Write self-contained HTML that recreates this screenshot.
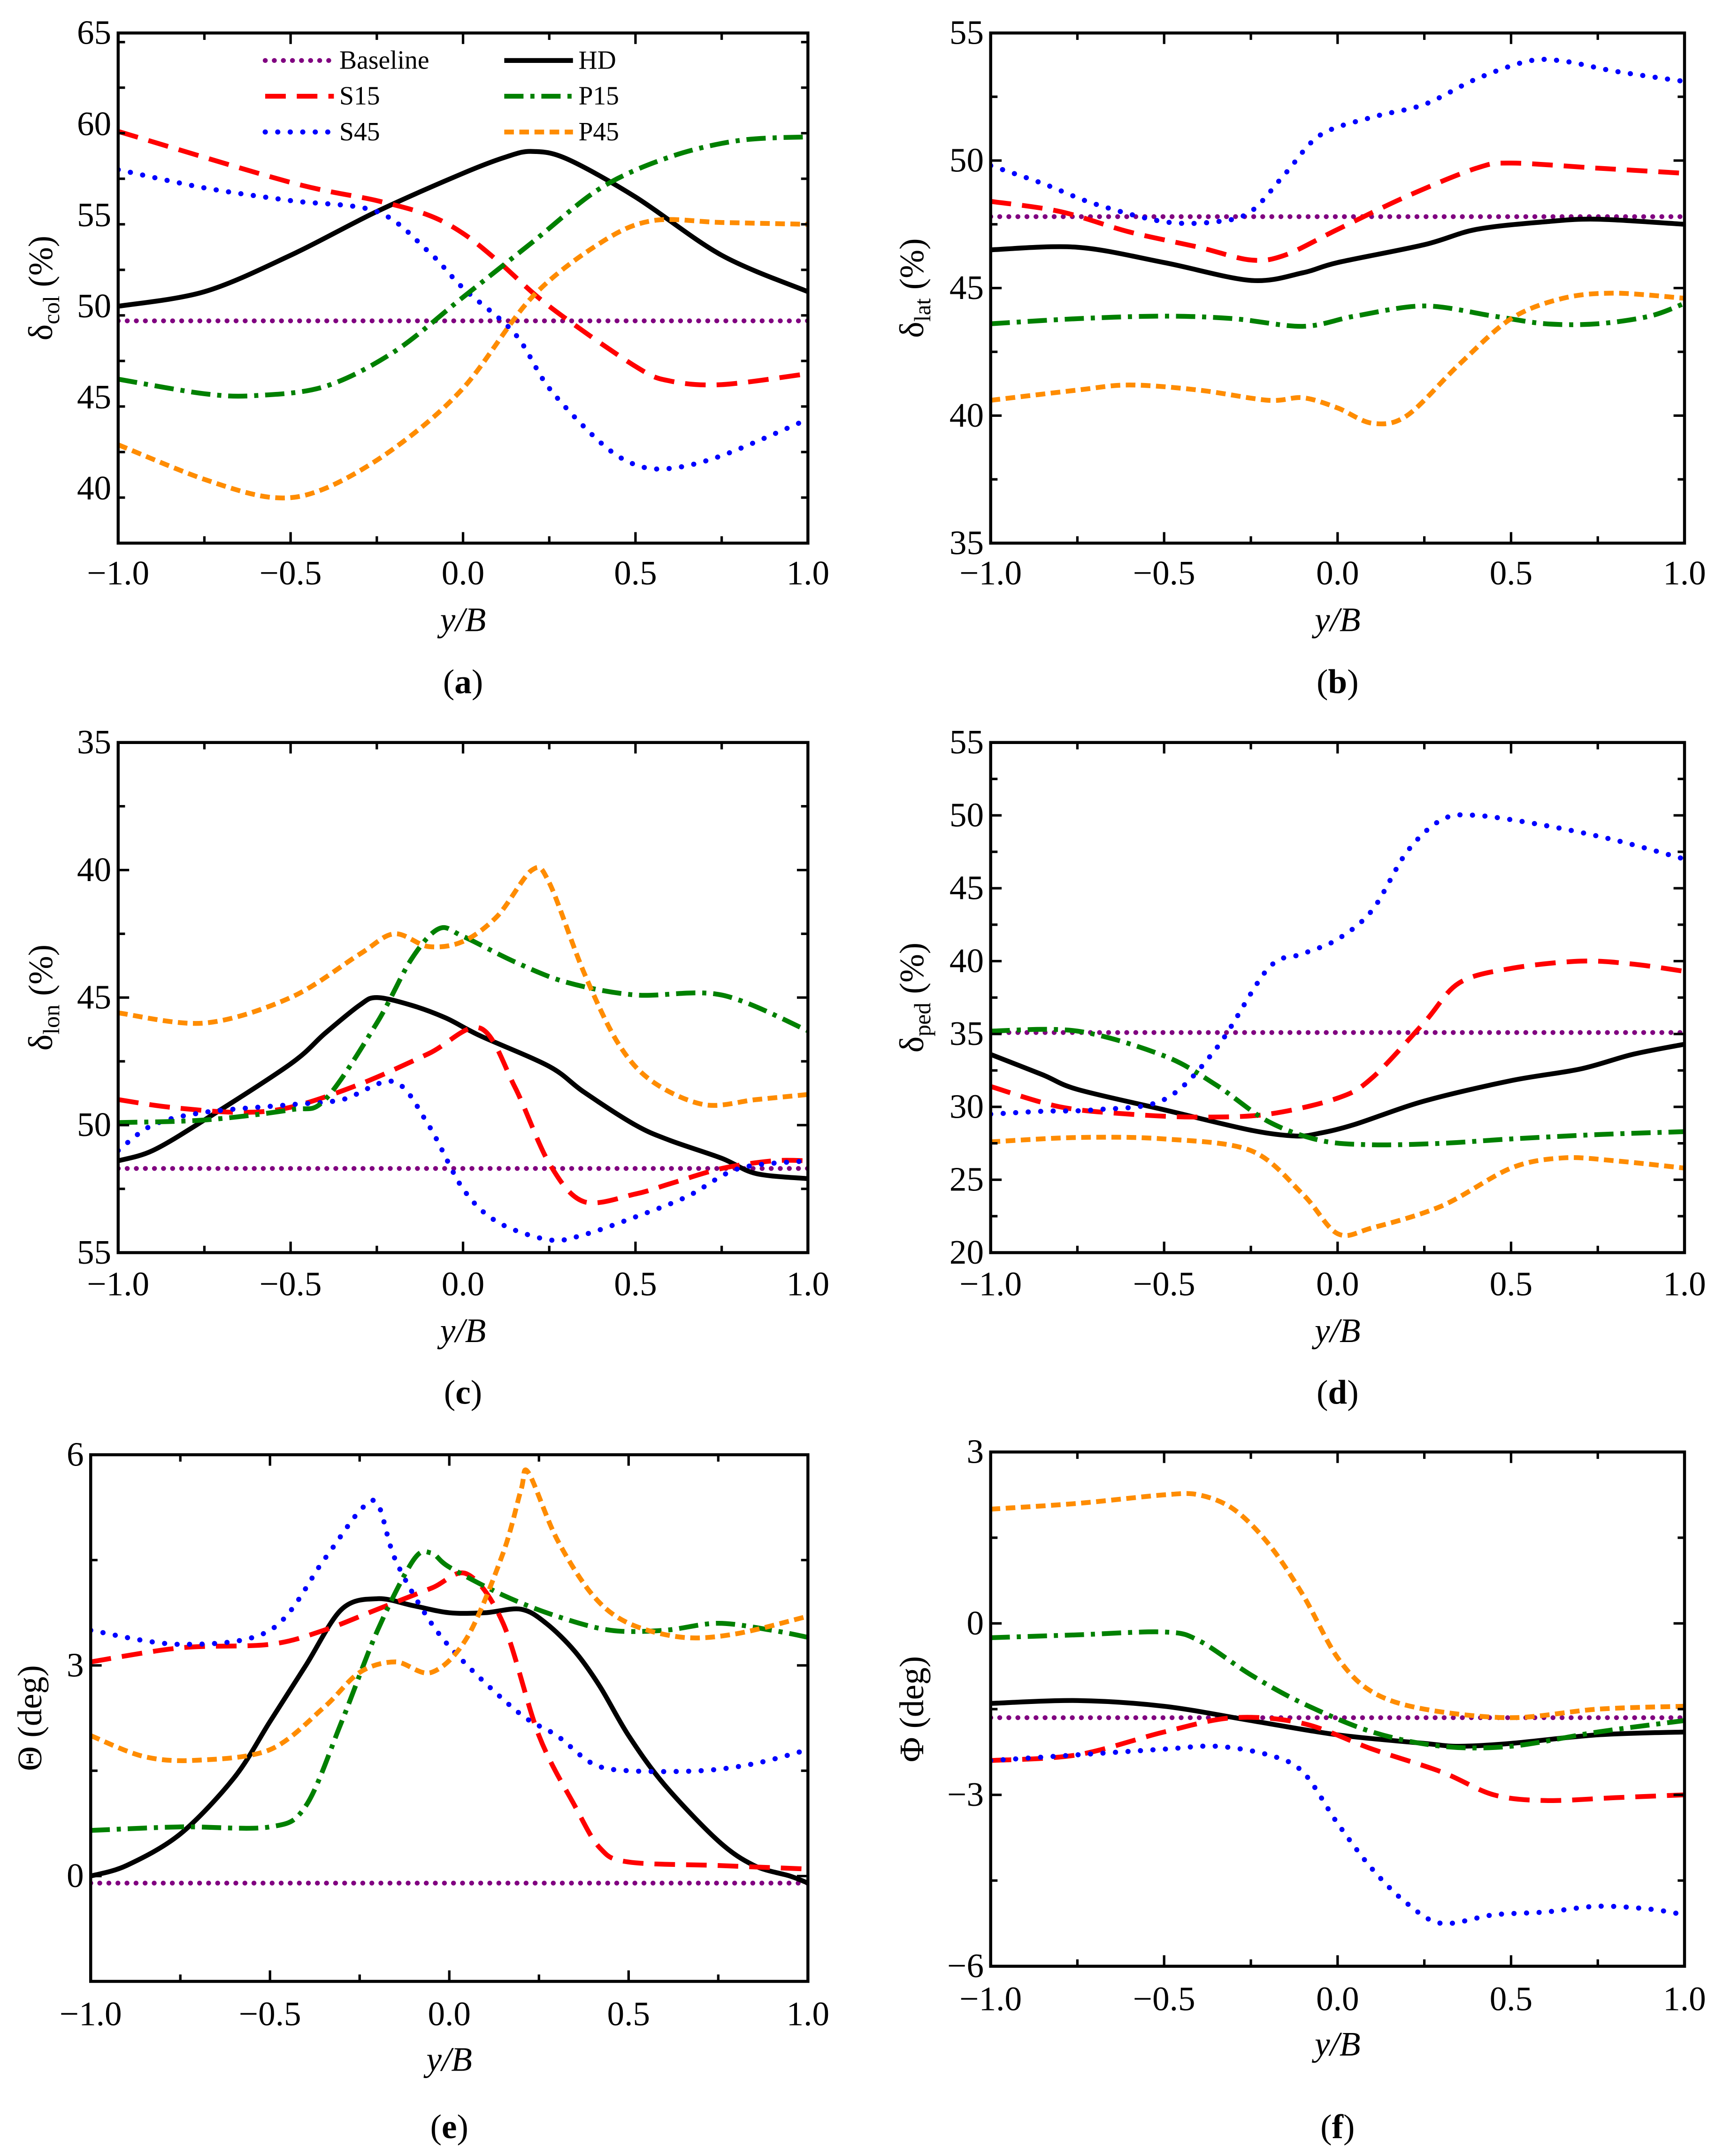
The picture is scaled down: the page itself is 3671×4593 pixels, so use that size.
<!DOCTYPE html>
<html><head><meta charset="utf-8"><style>
html,body{margin:0;padding:0;background:#fff;}
svg{display:block;}
svg text{font-family:"Liberation Serif","DejaVu Serif",serif;}
</style></head><body>
<svg id="fig" width="3671" height="4593" viewBox="0 0 1254 1568" preserveAspectRatio="none" font-family="Liberation Serif, serif" xmlns="http://www.w3.org/2000/svg"></svg>
<script>
// ---- data (x positions y/B and values per series) ----
const seriesNames = ["Baseline","HD","S15","S45","P15","P45"];
// Panel a: delta_col
const aBaseX=[-1,1], aBaseY=[49.2,49.2];
const aHDX=[-1,-0.75,-0.5,-0.25,0,0.125,0.2,0.3,0.5,0.75,1], aHDY=[50.0,50.8,52.8,55.2,57.3,58.2,58.5,58.1,56.0,52.8,50.8];
const aS15X=[-1,-0.5,-0.25,-0.1,0,0.1,0.25,0.5,0.6,0.75,1], aS15Y=[59.6,56.8,55.8,55.0,54.0,52.5,50.0,46.7,45.9,45.7,46.3];
const aS45X=[-1,-0.75,-0.5,-0.25,-0.1,0,0.15,0.25,0.4,0.5,0.6,0.75,1], aS45Y=[57.5,56.5,55.8,55.2,53.0,51.0,48.5,45.5,42.5,41.3,41.1,41.8,43.8];
const aP15X=[-1,-0.75,-0.6,-0.4,-0.2,0,0.2,0.4,0.6,0.8,1], aP15Y=[46.0,45.2,45.1,45.6,47.5,50.5,53.5,56.5,58.2,59.1,59.3];
const aP45X=[-1,-0.75,-0.55,-0.4,-0.2,0,0.2,0.4,0.55,0.75,1], aP45Y=[42.4,40.5,39.5,40.0,42.2,45.5,50.5,53.5,54.7,54.6,54.5];
// Panel b: delta_lat
const bBaseX=[-1,1], bBaseY=[47.8,47.8];
const bHDX=[-1,-0.75,-0.5,-0.25,-0.1,0,0.25,0.4,0.6,0.75,1], bHDY=[46.5,46.6,46.0,45.3,45.6,46.0,46.7,47.3,47.6,47.7,47.5];
const bS15X=[-1,-0.8,-0.6,-0.4,-0.25,-0.15,0,0.2,0.4,0.5,0.75,1], bS15Y=[48.4,48.0,47.2,46.6,46.1,46.3,47.3,48.6,49.7,49.9,49.7,49.5];
const bS45X=[-1,-0.85,-0.7,-0.5,-0.35,-0.25,-0.15,-0.05,0.1,0.25,0.4,0.55,0.65,0.8,1], bS45Y=[49.8,49.1,48.3,47.6,47.6,48.0,49.5,51.0,51.7,52.2,53.2,53.9,53.9,53.5,53.1];
const bP15X=[-1,-0.75,-0.5,-0.3,-0.1,0.05,0.25,0.45,0.6,0.75,0.9,1], bP15Y=[43.6,43.8,43.9,43.8,43.5,43.9,44.3,43.9,43.6,43.6,43.9,44.4];
const bP45X=[-1,-0.75,-0.6,-0.4,-0.2,-0.1,0,0.1,0.2,0.35,0.5,0.65,0.8,1], bP45Y=[40.6,41.0,41.2,41.0,40.6,40.7,40.3,39.7,40.0,42.0,43.8,44.6,44.8,44.6];
// Panel c: delta_lon (reversed axis)
const cBaseX=[-1,1], cBaseY=[51.7,51.7];
const cHDX=[-1,-0.9,-0.75,-0.5,-0.4,-0.3,-0.25,-0.15,-0.05,0.05,0.25,0.35,0.5,0.6,0.75,0.85,1], cHDY=[51.4,51.0,49.8,47.6,46.4,45.3,45.0,45.3,45.8,46.5,47.7,48.7,50.0,50.6,51.3,51.9,52.1];
const cS15X=[-1,-0.85,-0.65,-0.5,-0.3,-0.1,0.05,0.15,0.25,0.35,0.5,0.6,0.75,0.9,1], cS15Y=[49.0,49.3,49.5,49.3,48.4,47.2,46.2,48.5,51.5,53.0,52.7,52.3,51.7,51.4,51.4];
const cS45X=[-1,-0.9,-0.75,-0.5,-0.35,-0.2,-0.1,0,0.1,0.25,0.35,0.5,0.65,0.8,1], cS45Y=[51.0,50.0,49.5,49.2,49.0,48.3,50.0,52.5,53.8,54.5,54.3,53.6,52.8,51.7,51.4];
const cP15X=[-1,-0.75,-0.5,-0.4,-0.25,-0.15,-0.07,0,0.15,0.3,0.5,0.75,1], cP15Y=[49.9,49.8,49.4,49.0,46.0,43.5,42.3,42.6,43.6,44.4,44.9,44.9,46.3];
const cP45X=[-1,-0.75,-0.5,-0.3,-0.2,-0.1,0,0.1,0.2,0.25,0.35,0.45,0.55,0.7,0.85,1], cP45Y=[45.6,46.0,45.0,43.3,42.5,43.0,42.8,41.8,40.0,40.5,44.0,46.8,48.3,49.2,49.0,48.8];
// Panel d: delta_ped
const dBaseX=[-1,1], dBaseY=[35.1,35.1];
const dHDX=[-1,-0.85,-0.75,-0.5,-0.25,-0.12,-0.05,0.05,0.25,0.5,0.7,0.85,1], dHDY=[33.6,32.2,31.2,29.8,28.4,28.0,28.2,28.8,30.4,31.8,32.6,33.6,34.3];
const dS15X=[-1,-0.8,-0.6,-0.4,-0.2,0,0.1,0.25,0.35,0.5,0.7,0.85,1], dS15Y=[31.4,30.0,29.5,29.3,29.5,30.6,32.0,35.8,38.5,39.5,40.0,39.8,39.3];
const dS45X=[-1,-0.85,-0.7,-0.5,-0.35,-0.2,-0.1,0,0.1,0.2,0.3,0.4,0.6,0.8,1], dS45Y=[29.5,29.7,29.8,30.5,34.0,39.5,40.5,41.5,43.5,47.5,49.7,50.0,49.3,48.3,47.0];
const dP15X=[-1,-0.75,-0.5,-0.35,-0.2,-0.05,0.1,0.3,0.5,0.75,1], dP15Y=[35.2,35.2,33.5,31.5,29.0,27.7,27.4,27.5,27.8,28.1,28.3];
const dP45X=[-1,-0.75,-0.5,-0.25,-0.1,0,0.1,0.3,0.5,0.65,0.8,1], dP45Y=[27.6,27.9,27.8,27.0,24.0,21.3,21.7,23.2,25.8,26.5,26.3,25.8];
// Panel e: Theta
const eBaseX=[-1,1], eBaseY=[-0.1,-0.1];
const eHDX=[-1,-0.9,-0.75,-0.6,-0.5,-0.4,-0.3,-0.2,-0.1,0,0.1,0.2,0.27,0.35,0.42,0.5,0.6,0.75,0.85,0.95,1], eHDY=[0.0,0.15,0.6,1.4,2.2,3.0,3.8,3.95,3.85,3.75,3.75,3.8,3.6,3.2,2.7,2.0,1.3,0.5,0.15,0.0,-0.1];
const eS15X=[-1,-0.75,-0.5,-0.35,-0.2,-0.05,0.05,0.15,0.25,0.35,0.42,0.5,0.75,1], eS15Y=[3.05,3.25,3.3,3.5,3.8,4.1,4.3,3.6,2.0,1.0,0.4,0.2,0.15,0.1];
const eS45X=[-1,-0.75,-0.5,-0.35,-0.25,-0.2,-0.15,-0.05,0.05,0.2,0.3,0.4,0.5,0.7,0.85,1], eS45Y=[3.5,3.3,3.5,4.5,5.2,5.3,4.5,3.6,3.0,2.3,2.0,1.6,1.5,1.5,1.6,1.8];
const eP15X=[-1,-0.75,-0.5,-0.4,-0.3,-0.2,-0.1,-0.05,0,0.15,0.3,0.45,0.6,0.75,0.9,1], eP15Y=[0.65,0.7,0.7,1.0,2.2,3.5,4.5,4.6,4.4,4.0,3.7,3.5,3.5,3.6,3.5,3.4];
const eP45X=[-1,-0.85,-0.7,-0.5,-0.35,-0.25,-0.15,-0.05,0.05,0.15,0.2,0.22,0.3,0.4,0.5,0.65,0.8,1], eP45Y=[2.0,1.7,1.65,1.8,2.4,2.9,3.05,2.9,3.4,4.6,5.5,5.75,4.8,4.0,3.6,3.4,3.45,3.7];
// Panel f: Phi
const fBaseX=[-1,1], fBaseY=[-1.65,-1.65];
const fHDX=[-1,-0.75,-0.5,-0.25,0,0.25,0.35,0.5,0.75,1], fHDY=[-1.4,-1.35,-1.45,-1.7,-1.95,-2.1,-2.15,-2.1,-1.95,-1.9];
const fS15X=[-1,-0.75,-0.5,-0.3,-0.1,0.1,0.3,0.45,0.6,0.8,1], fS15Y=[-2.4,-2.3,-1.9,-1.65,-1.75,-2.2,-2.6,-3.0,-3.1,-3.05,-3.0];
const fS45X=[-1,-0.75,-0.5,-0.35,-0.2,-0.1,0,0.1,0.2,0.3,0.45,0.6,0.75,0.9,1], fS45Y=[-2.4,-2.3,-2.2,-2.15,-2.3,-2.6,-3.5,-4.3,-4.9,-5.25,-5.1,-5.05,-4.95,-5.0,-5.1];
const fP15X=[-1,-0.75,-0.5,-0.4,-0.25,-0.1,0.1,0.3,0.5,0.75,1], fP15Y=[-0.25,-0.2,-0.15,-0.3,-0.9,-1.4,-1.9,-2.15,-2.15,-1.9,-1.7];
const fP45X=[-1,-0.75,-0.5,-0.4,-0.3,-0.2,-0.1,0,0.1,0.25,0.5,0.75,1], fP45Y=[2.0,2.1,2.25,2.25,2.0,1.4,0.5,-0.6,-1.2,-1.5,-1.65,-1.5,-1.45];
const xTicks=[-1,-0.5,0,0.5,1];
const xTickLabels=["\u22121.0","\u22120.5","0.0","0.5","1.0"];
const aTicks=[40,45,50,55,60,65], bTicks=[35,40,45,50,55], cTicks=[35,40,45,50,55], dTicks=[20,25,30,35,40,45,50,55], eTicks=[0,3,6], fTicks=[-6,-3,0,3];

const NS="http://www.w3.org/2000/svg";
const svg=document.getElementById('fig');
const FS=25;
function mk(tag,attrs,parent){const e=document.createElementNS(NS,tag);for(const k in attrs)e.setAttribute(k,attrs[k]);if(tag==='text')e.setAttribute('font-family','Liberation Serif, serif');(parent||svg).appendChild(e);return e;}
const styles={
 Baseline:{stroke:"#800080",dash:"0.1 6.5",w:3.5,cap:"round"},
 HD:{stroke:"#000",dash:"",w:3.5,cap:"butt"},
 S15:{stroke:"#ff0000",dash:"15 8",w:3.5,cap:"butt"},
 S45:{stroke:"#0000ff",dash:"0.1 9",w:3.7,cap:"round"},
 P15:{stroke:"#008000",dash:"14 5 3 5",w:3.5,cap:"butt"},
 P45:{stroke:"#ff8c00",dash:"7 4",w:3.5,cap:"butt"}
};
function pathD(px,py){
 let d="M"+px[0].toFixed(2)+","+py[0].toFixed(2);
 for(let i=0;i<px.length-1;i++){
  const x0=px[Math.max(i-1,0)],y0=py[Math.max(i-1,0)],x1=px[i],y1=py[i],x2=px[i+1],y2=py[i+1],x3=px[Math.min(i+2,px.length-1)],y3=py[Math.min(i+2,px.length-1)];
  const t=0.16;
  d+=" C"+(x1+(x2-x0)*t).toFixed(2)+","+(y1+(y2-y0)*t).toFixed(2)+" "+(x2-(x3-x1)*t).toFixed(2)+","+(y2-(y3-y1)*t).toFixed(2)+" "+x2.toFixed(2)+","+y2.toFixed(2);
 }
 return d;
}
function panel(cfg){
 const g=mk('g',{});
 
 
 const {x0,x1,y0,y1,ymin,ymax,inv}=cfg;
 const sx=v=>x0+(v+1)/2*(x1-x0);
 const sy=v=>inv? y0+(v-ymin)/(ymax-ymin)*(y1-y0) : y1-(v-ymin)/(ymax-ymin)*(y1-y0);
 const clip=mk('clipPath',{id:'clip'+cfg.id},g);
 mk('rect',{x:x0,y:y0,width:x1-x0,height:y1-y0},clip);
 const lines=mk('g',{'clip-path':'url(#clip'+cfg.id+')'},g);
 seriesNames.forEach(n=>{
  const xs=cfg.data[n][0],ys=cfg.data[n][1];const s=styles[n];
  const p=mk('path',{d:pathD(xs.map(sx),ys.map(sy)),fill:"none",stroke:s.stroke,'stroke-width':s.w,'stroke-dasharray':s.dash,'stroke-linecap':s.cap,'stroke-linejoin':'round'},lines);
  
  
 });
 const fr=mk('rect',{x:x0,y:y0,width:x1-x0,height:y1-y0,fill:'none',stroke:'#000','stroke-width':2.2},g);
 
 
 for(let v=-1;v<=1.001;v+=0.25){
  const X=sx(v);const L=(Math.abs(v*2-Math.round(v*2))<1e-6)?8:5;
  mk('line',{x1:X,x2:X,y1:y1,y2:y1-L,stroke:'#000','stroke-width':1.8},g);
  mk('line',{x1:X,x2:X,y1:y0,y2:y0+L,stroke:'#000','stroke-width':1.8},g);
 }
 xTicks.forEach((v,i)=>{
  const t=mk('text',{x:sx(v),y:cfg.tly,'text-anchor':'middle','font-size':FS},g);t.textContent=xTickLabels[i];
  
  
 });
 const tk=cfg.ticks;const step=tk[1]-tk[0];
 for(let v=ymin;v<=ymax+1e-6;v+=step/2){
  const Y=sy(v);const maj=tk.some(t=>Math.abs(t-v)<1e-6);const L=maj?8:5;
  if(Y<y0-0.5||Y>y1+0.5)continue;
  mk('line',{x1:x0,x2:x0+L,y1:Y,y2:Y,stroke:'#000','stroke-width':1.8},g);
  mk('line',{x1:x1,x2:x1-L,y1:Y,y2:Y,stroke:'#000','stroke-width':1.8},g);
 }
 tk.forEach(v=>{
  const t=mk('text',{x:x0-5,y:sy(v)+8,'text-anchor':'end','font-size':FS},g);t.textContent=(v<0?"\u2212":"")+Math.abs(v);
  
  
 });
 const xt=mk('text',{x:(x0+x1)/2,y:cfg.xty,'text-anchor':'middle','font-size':FS,'font-style':'italic'},g);xt.textContent="y/B";
 
 
 const yt=mk('text',{x:0,y:0,'text-anchor':'middle','font-size':FS,transform:`translate(${cfg.ytx},${(y0+y1)/2}) rotate(-90)`},g);
 
 
 if(cfg.sub){
  const a=mk('tspan',{},yt);a.textContent="\u03b4";
  const b=mk('tspan',{'font-size':17,dy:5},yt);b.textContent=cfg.sub;
  const c=mk('tspan',{dy:-5},yt);c.textContent=" (%)";
 } else yt.textContent=cfg.ytext;
 const pl=mk('text',{x:(x0+x1)/2,y:cfg.ply,'text-anchor':'middle','font-size':FS},g);
 
 
 const t1=mk('tspan',{},pl);t1.textContent="(";
 const t2=mk('tspan',{'font-weight':'bold'},pl);t2.textContent=cfg.id;
 const t3=mk('tspan',{},pl);t3.textContent=")";
 return g;
}
const L=86,R=588,L2=721,R2=1226;
panel({id:'a',x0:L,x1:R,y0:24,y1:395,ymin:37,ymax:65,inv:false,ticks:aTicks,sub:"col",ytx:38,tly:425,xty:459,ply:504,
 data:{Baseline:[aBaseX,aBaseY],HD:[aHDX,aHDY],S15:[aS15X,aS15Y],S45:[aS45X,aS45Y],P15:[aP15X,aP15Y],P45:[aP45X,aP45Y]}});
panel({id:'b',x0:L2,x1:R2,y0:24,y1:395,ymin:35,ymax:55,inv:false,ticks:bTicks,sub:"lat",ytx:672,tly:425,xty:459,ply:504,
 data:{Baseline:[bBaseX,bBaseY],HD:[bHDX,bHDY],S15:[bS15X,bS15Y],S45:[bS45X,bS45Y],P15:[bP15X,bP15Y],P45:[bP45X,bP45Y]}});
panel({id:'c',x0:L,x1:R,y0:540,y1:911,ymin:35,ymax:55,inv:true,ticks:cTicks,sub:"lon",ytx:38,tly:942,xty:976,ply:1021,
 data:{Baseline:[cBaseX,cBaseY],HD:[cHDX,cHDY],S15:[cS15X,cS15Y],S45:[cS45X,cS45Y],P15:[cP15X,cP15Y],P45:[cP45X,cP45Y]}});
panel({id:'d',x0:L2,x1:R2,y0:540,y1:911,ymin:20,ymax:55,inv:false,ticks:dTicks,sub:"ped",ytx:672,tly:942,xty:976,ply:1021,
 data:{Baseline:[dBaseX,dBaseY],HD:[dHDX,dHDY],S15:[dS15X,dS15Y],S45:[dS45X,dS45Y],P15:[dP15X,dP15Y],P45:[dP45X,dP45Y]}});
panel({id:'e',x0:66,x1:R,y0:1058,y1:1441,ymin:-1.5,ymax:6,inv:false,ticks:eTicks,ytext:"\u0398 (deg)",ytx:30,tly:1473,xty:1506,ply:1555,
 data:{Baseline:[eBaseX,eBaseY],HD:[eHDX,eHDY],S15:[eS15X,eS15Y],S45:[eS45X,eS45Y],P15:[eP15X,eP15Y],P45:[eP45X,eP45Y]}});
panel({id:'f',x0:L2,x1:R2,y0:1056,y1:1430,ymin:-6,ymax:3,inv:false,ticks:fTicks,ytext:"\u03a6 (deg)",ytx:672,tly:1462,xty:1495,ply:1555,
 data:{Baseline:[fBaseX,fBaseY],HD:[fHDX,fHDY],S15:[fS15X,fS15Y],S45:[fS45X,fS45Y],P15:[fP15X,fP15Y],P45:[fP45X,fP45Y]}});
const lg=mk('g',{});


const legPos={Baseline:[193,44],HD:[367,44],S15:[193,70],P15:[367,70],S45:[193,96],P45:[367,96]};
seriesNames.forEach(n=>{
 const [lx,ly]=legPos[n];const s=styles[n];
 const e=mk('g',{},lg);
 
 
 mk('line',{x1:lx,x2:lx+50,y1:ly,y2:ly,stroke:s.stroke,'stroke-width':s.w,'stroke-dasharray':s.dash,'stroke-linecap':s.cap},e);
 const t=mk('text',{x:lx+54,y:ly+6,'font-size':19},e);t.textContent=n;
});
</script>
</body></html>
